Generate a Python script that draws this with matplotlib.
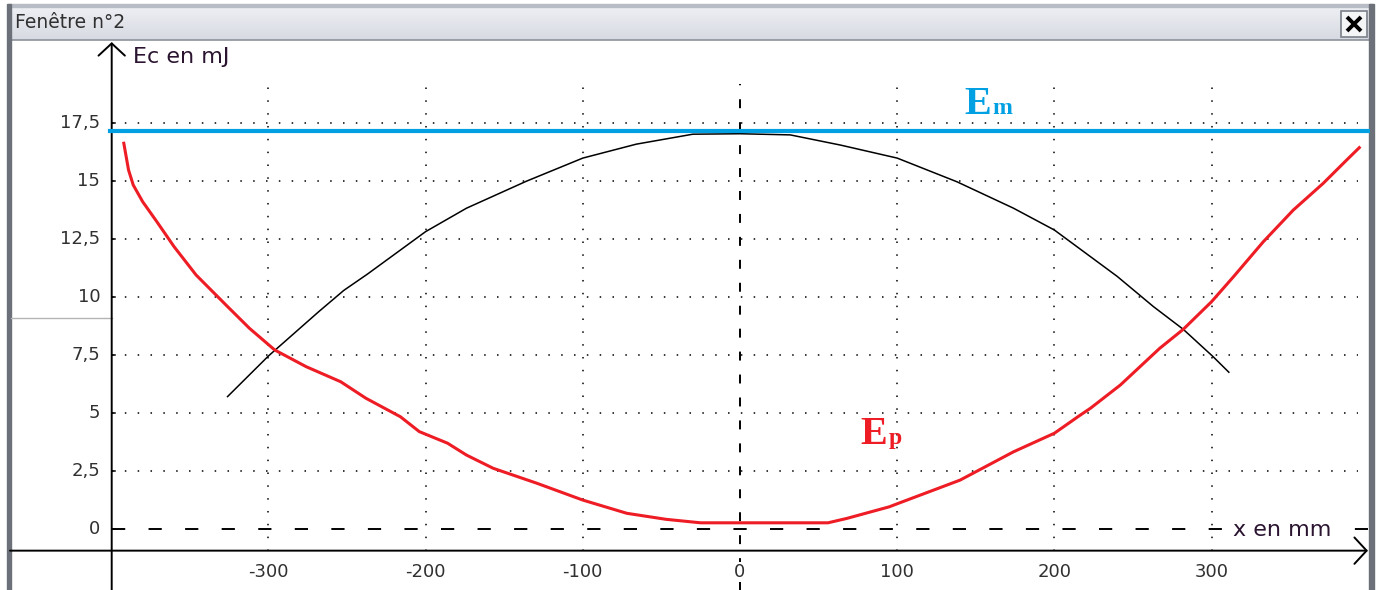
import numpy as np
import matplotlib
matplotlib.use("Agg")
import matplotlib.pyplot as plt
from matplotlib.patches import Rectangle

# ---- data (x in mm, energies in mJ) ----
ec_x = [-326, -300, -268, -252, -237, -200, -174, -136, -100, -66, -30, 0,
        32, 64, 100, 138, 174, 200, 216, 240, 263, 282, 301, 311]
ec_y = [5.72, 7.47, 9.38, 10.3, 11.0, 12.83, 13.84, 15.0, 16.0, 16.6, 17.03, 17.05,
        17.0, 16.56, 16.0, 14.98, 13.84, 12.9, 12.1, 10.9, 9.6, 8.62, 7.44, 6.77]

ep_x = [-392, -389, -386, -380, -371, -360, -346, -326, -312, -296, -276, -254,
        -238, -216, -204, -186, -174, -157, -129, -100, -72, -47, -25, 0,
        56, 68, 95, 100, 140, 174, 200, 216, 223, 242, 267, 282, 300, 314,
        333, 352, 371, 386, 394]
ep_y = [16.64, 15.49, 14.84, 14.12, 13.26, 12.18, 10.96, 9.6, 8.66, 7.73, 7.01, 6.36,
        5.65, 4.85, 4.21, 3.71, 3.2, 2.63, 1.98, 1.26, 0.69, 0.43, 0.28, 0.28,
        0.28, 0.47, 0.97, 1.1, 2.12, 3.34, 4.14, 4.9, 5.22, 6.22, 7.8, 8.62, 9.81, 10.89,
        12.4, 13.76, 14.91, 15.92, 16.45]

em_value = 17.17
em_x = [-401, 401]

x_ticks = [-300, -200, -100, 0, 100, 200, 300]
y_ticks = [0, 2.5, 5, 7.5, 10, 12.5, 15, 17.5]
y_tick_labels = ["0", "2,5", "5", "7,5", "10", "12,5", "15", "17,5"]

# ---- figure ----
W, H = 1379, 590
fig = plt.figure(figsize=(W / 100, H / 100), dpi=100, facecolor="white")

# window frame drawn in pixel coordinates
bg = fig.add_axes([0, 0, 1, 1])
bg.set_xlim(0, W)
bg.set_ylim(H, 0)
bg.axis("off")
grad = np.linspace(0, 1, 40).reshape(-1, 1)
bg.imshow(grad, extent=(8, 1373, 40, 5), aspect="auto", zorder=1,
          cmap=matplotlib.colors.LinearSegmentedColormap.from_list("tb", ["#eef0f4", "#d7dae2"]))
bg.add_patch(Rectangle((8, 4), 1365, 3, color="#b8bcc4", zorder=2))
bg.plot([8, 1373], [40, 40], color="#8c929a", lw=1.2, zorder=2)
bg.add_patch(Rectangle((7, 4), 4, H, color="#6c7179", zorder=2))
bg.add_patch(Rectangle((1369, 4), 5, H, color="#6c7179", zorder=2))
bg.text(15, 23, "Fenêtre n°2", fontsize=13.5, color="#303030", va="center", ha="left", zorder=3)
bg.add_patch(Rectangle((1341, 11), 26, 26, facecolor="#f4f5f7", edgecolor="#7a7f88", lw=1.2, zorder=3))
bg.plot([1347, 1361], [17, 31], color="black", lw=2.8, solid_capstyle="butt", zorder=4)
bg.plot([1361, 1347], [17, 31], color="black", lw=2.8, solid_capstyle="butt", zorder=4)
bg.plot([11, 112], [318, 318], color="#b4b4b4", lw=1.0, zorder=2)

# plotting area, mapped so that x=0 -> px 740, y=0 -> px 529
ax = fig.add_axes([10 / W, 0, 1360 / W, 550 / H])
ax.set_facecolor("none")
ax.set_xlim(-464.4, 400.8)
ax.set_ylim(-2.616, 21.09)
ax.axis("off")

x_axis_y = -0.92
y_axis_x = -399.7
grid_top = 19.2

dot = (0, (1, 7.4))
for xv in x_ticks:
    if xv == 0:
        ax.plot([xv, xv], [-2.616, grid_top], color="black", lw=1.4,
                linestyle=(0, (4.6, 7.2)), zorder=2)
    else:
        ax.plot([xv, xv], [x_axis_y, grid_top], color="black", lw=1.1, linestyle=dot, zorder=2)
for yv in y_ticks:
    if yv == 0:
        ax.plot([y_axis_x, 399.5], [yv, yv], color="black", lw=1.4,
                linestyle=(0, (6.8, 12)), zorder=2)
    else:
        ax.plot([y_axis_x, 393], [yv, yv], color="black", lw=1.1, linestyle=dot, zorder=2)
    ax.plot([y_axis_x, y_axis_x + 2.2], [yv, yv], color="black", lw=1.1, zorder=2)

# axes with open arrow heads
arrow = dict(arrowstyle="->,head_length=0.88,head_width=0.95", lw=1.4, color="black",
             shrinkA=0, shrinkB=0)
ax.annotate("", xy=(399.5, x_axis_y), xytext=(-464.4, x_axis_y), arrowprops=arrow, zorder=3)
ax.annotate("", xy=(y_axis_x, 21.0), xytext=(y_axis_x, -2.616), arrowprops=arrow, zorder=3)

# tick labels
for yv, lab in zip(y_ticks, y_tick_labels):
    ax.text(-407, yv, lab, ha="right", va="center", fontsize=13, color="#303030")
for xv in x_ticks:
    ax.text(xv, -1.84, str(xv), ha="center", va="center", fontsize=13, color="#303030",
            bbox=dict(facecolor="white", edgecolor="none", pad=0.5), zorder=4)

ax.text(-386, 20.36, "Ec en mJ", ha="left", va="center", fontsize=16, color="#2a1430")
ax.text(313.6, -0.29, "x en mm", ha="left", va="baseline", fontsize=16, color="#2a1430",
        bbox=dict(facecolor="white", edgecolor="none", pad=1.5), zorder=4)

# curves
ax.plot(ec_x, ec_y, color="black", lw=1.1, zorder=5)
ax.plot(ep_x, ep_y, color="#ee1c24", lw=2.2, zorder=5)
ax.plot(em_x, [em_value, em_value], color="#00a0e3", lw=3.0, zorder=6)

# energy labels
serif = ["Liberation Serif", "DejaVu Serif"]
ax.text(142.5, 17.9, "E", family=serif, fontweight="bold", fontsize=29, color="#00a0e3",
        ha="left", va="baseline")
ax.annotate("m", xy=(142.5, 17.9), xytext=(20.5, 0), textcoords="offset points",
            family=serif, fontweight="bold", fontsize=17, color="#00a0e3", ha="left", va="baseline")
ax.text(76.3, 3.68, "E", family=serif, fontweight="bold", fontsize=29, color="#ee1c24",
        ha="left", va="baseline")
ax.annotate("p", xy=(76.3, 3.68), xytext=(20.5, 0), textcoords="offset points",
            family=serif, fontweight="bold", fontsize=17, color="#ee1c24", ha="left", va="baseline")

fig.savefig("out.png", dpi=100, facecolor="white")
